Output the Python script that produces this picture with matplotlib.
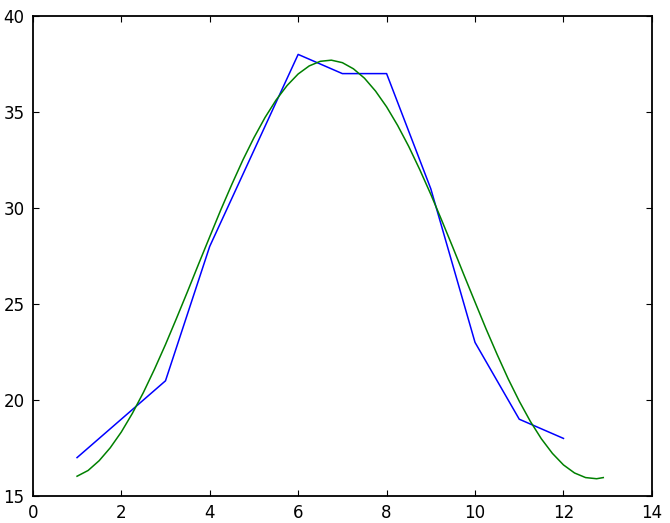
import matplotlib
matplotlib.use("Agg")
import matplotlib.pyplot as plt

# monthly values (blue)
months = [1, 2, 3, 4, 5, 6, 7, 8, 9, 10, 11, 12]
temp_max = [17, 19, 21, 28, 33, 38, 37, 37, 31, 23, 19, 18]

# fitted curve (green)
fit_x = [1.0, 1.25, 1.5, 1.75, 2.0, 2.25, 2.5, 2.75, 3.0, 3.25, 3.5, 3.75,
         4.0, 4.25, 4.5, 4.75, 5.0, 5.25, 5.5, 5.75, 6.0, 6.25, 6.5, 6.75,
         7.0, 7.25, 7.5, 7.75, 8.0, 8.25, 8.5, 8.75, 9.0, 9.25, 9.5, 9.75,
         10.0, 10.25, 10.5, 10.75, 11.0, 11.25, 11.5, 11.75, 12.0, 12.25,
         12.5, 12.75, 12.9]
fit_y = [16.03, 16.33, 16.84, 17.51, 18.33, 19.30, 20.39, 21.60, 22.89, 24.26,
         25.66, 27.09, 28.50, 29.90, 31.23, 32.50, 33.66, 34.71, 35.62, 36.38,
         36.98, 37.40, 37.64, 37.70, 37.57, 37.25, 36.76, 36.09, 35.27, 34.30,
         33.21, 32.00, 30.71, 29.34, 27.94, 26.51, 25.10, 23.70, 22.37, 21.10,
         19.94, 18.89, 17.98, 17.22, 16.62, 16.20, 15.96, 15.90, 15.96]

fig = plt.figure(figsize=(6.7, 5.23), dpi=100)
ax = fig.add_axes([0.049, 0.0516, 0.924, 0.9178])

ax.plot(months, temp_max, color=(0, 0, 1), linewidth=1.1)
ax.plot(fit_x, fit_y, color=(0, 0.5, 0), linewidth=1.1)

ax.set_xlim(0, 14)
ax.set_ylim(15, 40)
ax.set_xticks(range(0, 15, 2))
ax.set_yticks(range(15, 41, 5))
ax.tick_params(direction="in", top=True, right=True, length=4, width=0.8,
               labelsize=12, pad=6)
for s in ax.spines.values():
    s.set_linewidth(1.3)

fig.savefig("out.png", dpi=100)
